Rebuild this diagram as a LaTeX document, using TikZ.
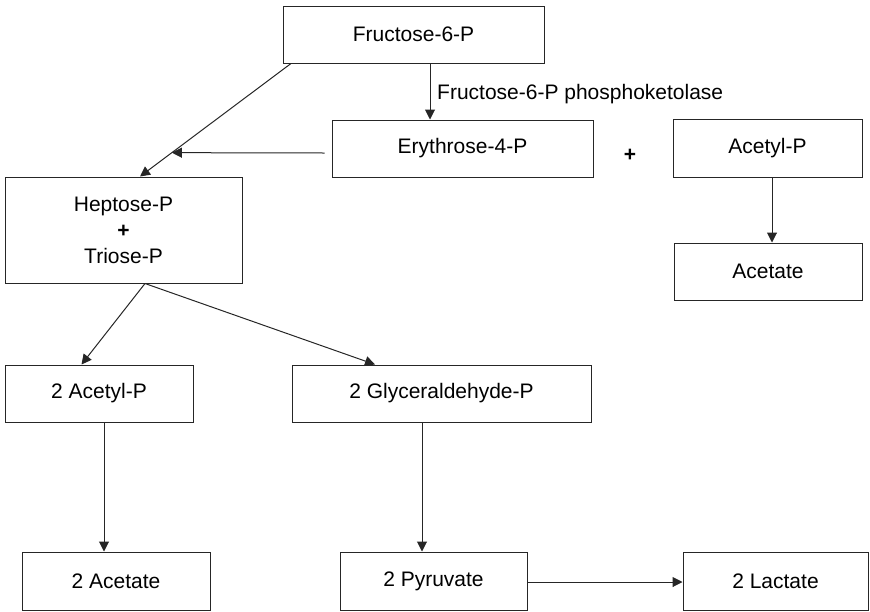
\documentclass[tikz,border=0pt]{standalone}
\usepackage{fontspec}
\setmainfont{Liberation Sans}
\usetikzlibrary{arrows.meta,calc}
\begin{document}
\begin{tikzpicture}[x=1pt,y=-1pt,
  box/.style={draw=black!85,line width=1pt,inner sep=0pt,align=center,
    font=\fontsize{21}{26}\selectfont},
  arr/.style={draw=black!85,line width=1pt,-{Triangle[length=10pt,width=10pt]}},
  lbl/.style={inner sep=0pt,font=\fontsize{21}{26}\selectfont}]
\useasboundingbox (0,0) rectangle (870,611);

% metabolites
\node[box,minimum width=261,minimum height=57] (f6p) at (413.5,34.5) {Fructose-6-P};
\node[box,minimum width=261,minimum height=57] (ery) at (462.5,148.5) {Erythrose-4-P};
\node[box,minimum width=189,minimum height=58] (acp) at (767.5,148) {Acetyl-P};
\node[box,minimum width=188,minimum height=57] (ace) at (768,271.5) {Acetate};
\node[box,minimum width=237,minimum height=106] (hep) at (123.5,230) {Heptose-P\\\textbf{+}\\Triose-P};
\node[box,minimum width=188,minimum height=57] (acp2) at (99,393.5) {2 Acetyl-P};
\node[box,minimum width=299,minimum height=57] (gly) at (441.5,393.5) {2 Glyceraldehyde-P};
\node[box,minimum width=188,minimum height=58] (ace2) at (116,581) {2 Acetate};
\node[box,minimum width=187,minimum height=58] (pyr) at (433.5,581) {2 Pyruvate};
\node[box,minimum width=185,minimum height=58] (lac) at (775.5,581) {2 Lactate};

% plus sign and enzyme label
\node[lbl] (plus) at (630,155) {\textbf{+}};
\node[lbl,anchor=base west] (enz) at (437,99) {Fructose-6-P phosphoketolase};

% helper coordinates
\coordinate (kx) at (430,0);
\coordinate (d1) at (291,0);
\coordinate (d2) at (140,0);
\coordinate (ey) at (0,153);
\coordinate (hx) at (145,0);
\coordinate (ax) at (81.5,0);
\coordinate (gx) at (375,0);
\coordinate (cx) at (104,0);
\coordinate (px) at (422,0);
\coordinate (vx) at (772,0);
\coordinate (ly) at (0,582);

% connectors
\draw[arr] (f6p.south -| kx) -- (ery.north -| kx);
\draw[arr] (f6p.south -| d1) coordinate (s1) -- (hep.north -| d2) coordinate (t1);
\draw[arr] ($(ery.west |- ey)+(-7,0)$) -- ($(s1)!0.789!(t1)$);
\draw[arr] (acp.south -| vx) -- (ace.north -| vx);
\draw[arr] (hep.south -| hx) -- (acp2.north -| ax);
\draw[arr] (hep.south -| hx) -- (gly.north -| gx);
\draw[arr] (acp2.south -| cx) -- (ace2.north -| cx);
\draw[arr] (gly.south -| px) -- (pyr.north -| px);
\draw[arr] (pyr.east |- ly) -- (lac.west |- ly);
\end{tikzpicture}
\end{document}
